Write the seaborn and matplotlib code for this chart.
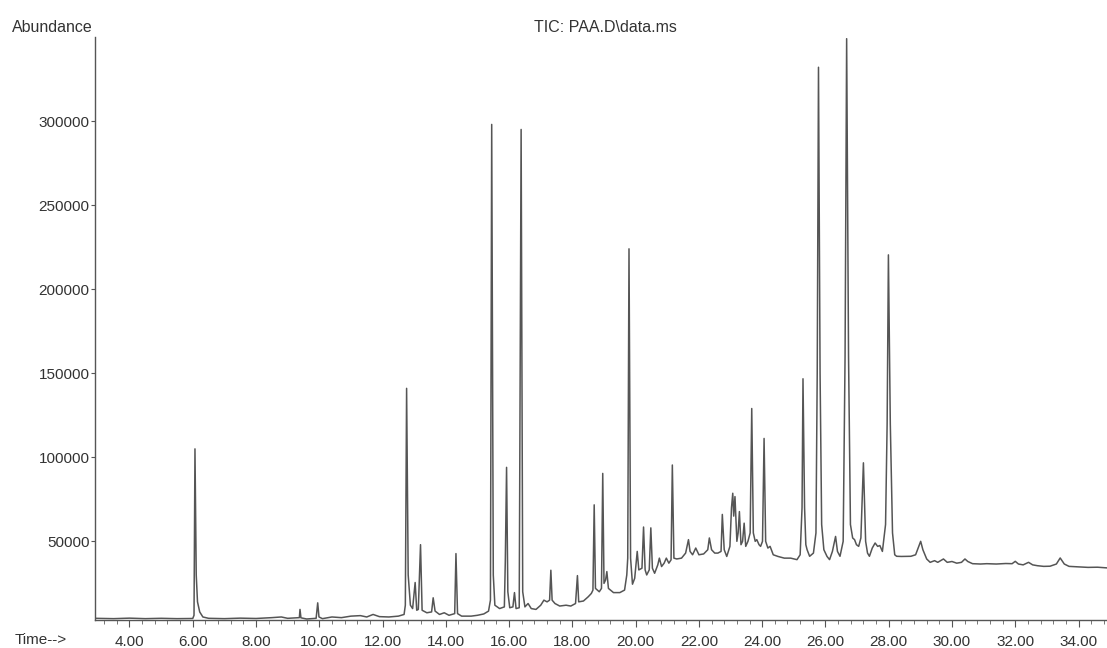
import matplotlib
matplotlib.use("Agg")
import matplotlib.pyplot as plt
import matplotlib.ticker as mticker
import seaborn as sns
import pandas as pd

# ---- data (retention time in min, abundance) ----
time_min = [
    2.91, 3.5, 4.0, 4.5, 5.0, 5.5, 6.0, 6.04, 6.07, 6.11, 6.15, 6.22, 6.32, 6.5,
    7.0, 7.5, 8.0, 8.5, 8.8, 9.0, 9.3, 9.37, 9.39, 9.42, 9.6, 9.9, 9.95, 9.99,
    10.1, 10.4, 10.7, 11.0, 11.3, 11.5, 11.7, 11.9, 12.2, 12.5, 12.68,
    12.72, 12.76, 12.81, 12.88, 12.95, 13.03, 13.08, 13.13, 13.2, 13.25, 13.4,
    13.55, 13.6, 13.66, 13.8, 13.95, 14.1, 14.28, 14.32, 14.37, 14.5, 14.8,
    15.0, 15.2, 15.35, 15.41, 15.45, 15.5, 15.55, 15.7, 15.85, 15.88, 15.92,
    15.96, 16.02, 16.12, 16.17, 16.22, 16.32, 16.38, 16.43, 16.5, 16.6, 16.7,
    16.85, 17.0, 17.1, 17.2, 17.28, 17.32, 17.36, 17.45, 17.6, 17.8, 17.95,
    18.1, 18.16, 18.2, 18.35, 18.5, 18.6, 18.65, 18.69, 18.73, 18.85, 18.92,
    18.96, 19.0, 19.05, 19.09, 19.14, 19.3, 19.5, 19.65, 19.72, 19.75, 19.79,
    19.84, 19.9, 19.97, 20.05, 20.1, 20.2, 20.25, 20.3, 20.35, 20.43, 20.48,
    20.53, 20.6, 20.7, 20.75, 20.82, 20.9, 20.97, 21.05, 21.12, 21.16, 21.21,
    21.3, 21.45, 21.58, 21.67, 21.72, 21.8, 21.9, 22.0, 22.15, 22.28, 22.33,
    22.4, 22.5, 22.6, 22.7, 22.74, 22.8, 22.88, 22.98, 23.03, 23.07, 23.1,
    23.14, 23.2, 23.24, 23.28, 23.33, 23.38, 23.43, 23.48, 23.55, 23.62, 23.67,
    23.72, 23.78, 23.83, 23.9, 23.95, 24.01, 24.06, 24.11, 24.18, 24.25, 24.35,
    24.5, 24.7, 24.9, 25.1, 25.2, 25.26, 25.29, 25.34, 25.38, 25.42, 25.5,
    25.62, 25.7, 25.74, 25.78, 25.83, 25.88, 25.95, 26.05, 26.13, 26.22, 26.32,
    26.38, 26.46, 26.56, 26.62, 26.67, 26.73, 26.79, 26.86, 26.92, 26.98, 27.05,
    27.12, 27.2, 27.27, 27.33, 27.39, 27.48, 27.57, 27.65, 27.72, 27.8, 27.9,
    27.95, 27.99, 28.05, 28.12, 28.19, 28.25, 28.4, 28.7, 28.85, 28.95, 29.01,
    29.08, 29.2, 29.31, 29.45, 29.55, 29.73, 29.85, 30.0, 30.15, 30.3, 30.41,
    30.5, 30.65, 30.9, 31.1, 31.4, 31.7, 31.9, 32.0, 32.1, 32.25, 32.42, 32.55,
    32.7, 32.9, 33.1, 33.3, 33.42, 33.55, 33.7, 34.0, 34.3, 34.6, 34.9,
]
abundance = [
    4200, 4000, 4300, 4000, 4200, 4000, 4100, 6000, 105000, 30000, 14000, 8000, 5000, 4200,
    4000, 4300, 4100, 4600, 5000, 4200, 4500, 4600, 9500, 4500, 3800, 4200, 13400, 5000,
    4000, 5000, 4600, 5500, 5800, 5000, 6500, 5200, 5000, 5500, 6500,
    12000, 141000, 30000, 12000, 10000, 25500, 9000, 9500, 48000, 9000, 7500,
    8000, 16400, 8500, 6500, 7500, 6000, 7000, 42700, 7000, 5500, 5500,
    6000, 6800, 8500, 15000, 298000, 30000, 12000, 10000, 11000, 38000, 94000,
    20000, 10500, 11000, 19500, 10000, 10500, 295000, 20000, 11000, 13000, 10000,
    9500, 12000, 15000, 14000, 15000, 32800, 15000, 13000, 11500, 12000, 11500,
    13000, 29600, 14000, 14500, 17000, 19000, 21000, 71700, 22000, 20000, 22000,
    90400, 25000, 27000, 32000, 22000, 19500, 19500, 21000, 30000, 40000, 224000,
    40000, 24500, 28000, 44000, 33000, 34000, 58500, 33000, 30000, 33000, 58000,
    34000, 31000, 36000, 40000, 35000, 37000, 40000, 37000, 39000, 95400, 40000,
    39500, 40000, 43000, 51000, 44000, 42000, 46000, 42000, 42500, 45000, 52000,
    45000, 43000, 43000, 44000, 66000, 45000, 41000, 47000, 70000, 78600, 65000,
    76600, 50000, 55000, 67700, 48000, 50000, 60800, 47000, 50000, 55000, 129000,
    55000, 50000, 51000, 48000, 47000, 50000, 111200, 50000, 46000, 47000, 42000,
    41000, 40000, 40000, 39100, 42000, 70000, 146700, 70000, 48000, 45000, 41100,
    43000, 55000, 150000, 332000, 150000, 60000, 45000, 41000, 39100, 44000, 52900,
    44000, 41100, 50000, 160000, 349000, 160000, 60000, 52000, 51000, 48000, 47000,
    52000, 96700, 50000, 43000, 41100, 46000, 49000, 47000, 47500, 44000, 60000,
    120000, 220400, 120000, 55000, 42000, 41100, 41000, 41100, 42000, 47000, 50000,
    45000, 39500, 37500, 38500, 37500, 39500, 37500, 38000, 37000, 37500, 39500,
    38000, 36700, 36500, 36700, 36500, 36800, 36700, 38100, 36500, 36000, 37500, 36000,
    35500, 35100, 35200, 36500, 40100, 36500, 35100, 34800, 34500, 34600, 34200,
]
y_ticks = [50000, 100000, 150000, 200000, 250000, 300000]
title_text = "TIC: PAA.D\\data.ms"
y_label_text = "Abundance"
x_label_text = "Time-->"

df = pd.DataFrame({"time": time_min, "abundance": abundance})

sns.set_style("ticks")
plt.rcParams["font.family"] = ["Liberation Sans", "DejaVu Sans"]

fig = plt.figure(figsize=(11.07, 6.48), dpi=100)
ax = fig.add_axes([95 / 1107, (648 - 620) / 648, 1 - 95 / 1107, (620 - 37) / 648])

sns.lineplot(data=df, x="time", y="abundance", ax=ax, color="#555555",
             linewidth=1.1, estimator=None, sort=False)

ax.set_xlim(2.91, 34.9)
ax.set_ylim(3200, 350000)

ax.xaxis.set_major_locator(mticker.MultipleLocator(2.0))
ax.xaxis.set_minor_locator(mticker.MultipleLocator(0.4))
ax.xaxis.set_major_formatter(mticker.FormatStrFormatter("%.2f"))
ax.set_yticks(y_ticks)
ax.yaxis.set_major_formatter(mticker.FormatStrFormatter("%d"))

for side in ["top", "right"]:
    ax.spines[side].set_visible(False)
for side in ["left", "bottom"]:
    ax.spines[side].set_color("#555555")
    ax.spines[side].set_linewidth(1.0)

ax.tick_params(axis="x", which="major", bottom=True, direction="out", length=5,
               width=0.8, color="#555555", labelsize=11, labelcolor="#333333", pad=6)
ax.tick_params(axis="x", which="minor", bottom=True, direction="out", length=3,
               width=0.7, color="#777777")
ax.tick_params(axis="y", which="major", left=True, direction="out", length=3,
               width=0.8, color="#555555", labelsize=11, labelcolor="#333333", pad=1)

ax.set_xlabel("")
ax.set_ylabel("")

fig.text(12 / 1107, 1 - 27 / 648, y_label_text, fontsize=11.5, color="#333333",
         ha="left", va="center")
fig.text(605 / 1107, 1 - 27 / 648, title_text, fontsize=11.5, color="#333333",
         ha="center", va="center")
fig.text(15 / 1107, 1 - 640 / 648, x_label_text, fontsize=11, color="#333333",
         ha="left", va="center")

fig.savefig("out.png", dpi=100, facecolor="white")
